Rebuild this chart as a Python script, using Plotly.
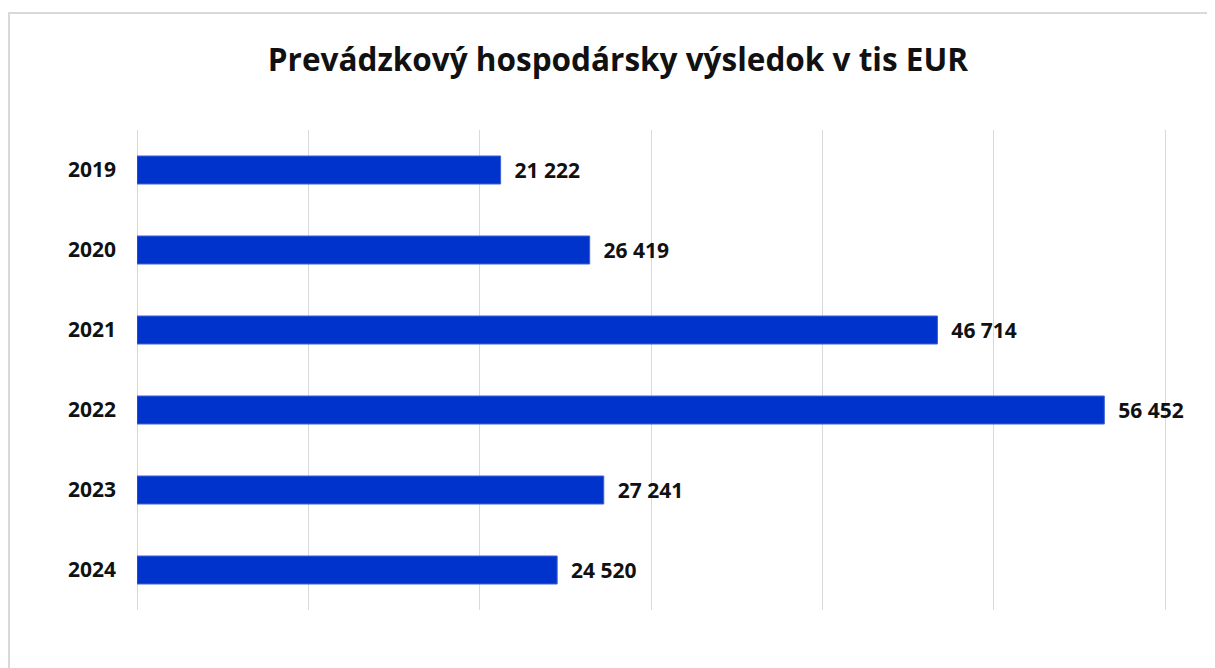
import plotly.graph_objects as go

years = ["2019", "2020", "2021", "2022", "2023", "2024"]
values = [21222, 26419, 46714, 56452, 27241, 24520]
labels = ["21 222", "26 419", "46 714", "56 452", "27 241", "24 520"]
x_ticks = [0, 10000, 20000, 30000, 40000, 50000, 60000]

fig = go.Figure(go.Bar(
    y=years, x=values, orientation="h",
    text=labels, texttemplate="  %{text}", textposition="outside", cliponaxis=False,
    textfont=dict(family="Open Sans", size=21, color="#111111", weight="bold"),
    marker=dict(color="#0033CC", line=dict(color="#3F62D8", width=1)),
    width=0.35,
))

W, H = 1215, 668
L, R, T, B = 129, 56, 122, 66
PW, PH = W - L - R, H - T - B

fig.update_layout(
    width=W, height=H,
    margin=dict(l=L, r=R, t=T, b=B),
    paper_bgcolor="white", plot_bgcolor="white",
    title=dict(text="<b>Prevádzkový hospodársky výsledok v tis EUR</b>",
               x=0.502, xanchor="center", y=0.922, yanchor="middle",
               font=dict(family="Open Sans", size=31.5, color="#111111")),
    showlegend=False,
    xaxis=dict(range=[0, 60110], tickvals=x_ticks, showticklabels=False,
               showgrid=True, gridcolor="#d9d9d9", gridwidth=1,
               zeroline=True, zerolinecolor="#d9d9d9", zerolinewidth=1,
               fixedrange=True),
    yaxis=dict(categoryorder="array", categoryarray=years[::-1],
               tickfont=dict(family="Open Sans", size=21, color="#111111", weight="bold"),
               ticklabelstandoff=20, showgrid=False, showline=False),
    shapes=[dict(type="rect", xref="paper", yref="paper",
                 x0=(1 - L) / PW, x1=1.2, y0=-0.3, y1=(H - B - 5) / PH,
                 line=dict(color="#d9d9d9", width=2), layer="below")],
)

fig.write_html("out.html")
